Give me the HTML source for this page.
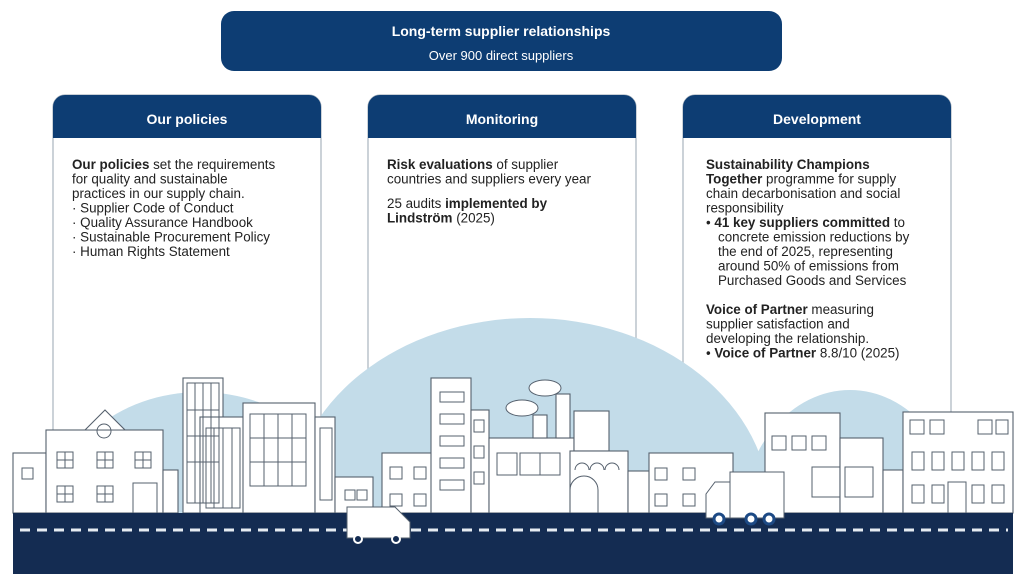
<!DOCTYPE html>
<html><head><meta charset="utf-8"><style>
html,body{margin:0;padding:0;background:#fff;overflow:hidden;width:1024px;height:584px;}
svg{display:block;font-family:"Liberation Sans",sans-serif;}
.t{font-size:13.4px;fill:#222;}
.b{font-weight:bold;}
.h{font-size:14px;font-weight:bold;fill:#fff;}
.w{fill:#fff;stroke:#55606d;stroke-width:1.1;}
</style></head><body>
<svg width="1024" height="584" viewBox="0 0 1024 584">
<defs><clipPath id="c"><rect x="0" y="0" width="1024" height="513"/></clipPath></defs>
<rect x="221" y="11" width="561" height="60" rx="13" fill="#0d3d73"/>
<text x="501" y="36" text-anchor="middle" class="h">Long-term supplier relationships</text>
<text x="501" y="60" text-anchor="middle" style="font-size:13px;fill:#fff">Over 900 direct suppliers</text>

<g>
<path d="M53,460 V107 a12,12 0 0 1 12,-12 H309 a12,12 0 0 1 12,12 V460" fill="#fff" stroke="#a9b4bf" stroke-width="1.2"/>
<path d="M53,138 V107 a12,12 0 0 1 12,-12 H309 a12,12 0 0 1 12,12 V138 Z" fill="#0d3d73"/>
<text x="187" y="124" text-anchor="middle" class="h">Our policies</text>
<path d="M368,460 V107 a12,12 0 0 1 12,-12 H624 a12,12 0 0 1 12,12 V460" fill="#fff" stroke="#a9b4bf" stroke-width="1.2"/>
<path d="M368,138 V107 a12,12 0 0 1 12,-12 H624 a12,12 0 0 1 12,12 V138 Z" fill="#0d3d73"/>
<text x="502" y="124" text-anchor="middle" class="h">Monitoring</text>
<path d="M683,460 V107 a12,12 0 0 1 12,-12 H939 a12,12 0 0 1 12,12 V460" fill="#fff" stroke="#a9b4bf" stroke-width="1.2"/>
<path d="M683,138 V107 a12,12 0 0 1 12,-12 H939 a12,12 0 0 1 12,12 V138 Z" fill="#0d3d73"/>
<text x="817" y="124" text-anchor="middle" class="h">Development</text>
</g>

<g class="t">
<text x="72" y="169"><tspan class="b">Our policies</tspan> set the requirements</text>
<text x="72" y="183.5">for quality and sustainable</text>
<text x="72" y="198">practices  in our supply chain.</text>
<text x="72" y="212.5">·  Supplier Code of Conduct</text>
<text x="72" y="227">·  Quality Assurance Handbook</text>
<text x="72" y="241.5">·  Sustainable Procurement Policy</text>
<text x="72" y="256">·  Human Rights Statement</text>

<text x="387" y="169"><tspan class="b">Risk evaluations</tspan> of supplier</text>
<text x="387" y="183.5">countries and suppliers every year</text>
<text x="387" y="208">25 audits <tspan class="b">implemented by</tspan></text>
<text x="387" y="222.5"><tspan class="b">Lindström</tspan> (2025)</text>

<text x="706" y="169" class="b">Sustainability Champions</text>
<text x="706" y="183.5"><tspan class="b">Together</tspan> programme for supply</text>
<text x="706" y="198">chain decarbonisation and social</text>
<text x="706" y="212.5">responsibility</text>
<text x="706" y="227">•  <tspan class="b">41 key suppliers committed</tspan> to</text>
<text x="718" y="241.5">concrete emission reductions by</text>
<text x="718" y="256">the end of 2025, representing</text>
<text x="718" y="270.5">around 50% of emissions from</text>
<text x="718" y="285">Purchased Goods and Services</text>
<text x="706" y="314"><tspan class="b">Voice of Partner</tspan> measuring</text>
<text x="706" y="328.5">supplier satisfaction and</text>
<text x="706" y="343">developing the relationship.</text>
<text x="706" y="357.5">•  <tspan class="b">Voice of Partner</tspan> 8.8/10 (2025)</text>
</g>

<g fill="#c3dce9" clip-path="url(#c)">
<ellipse cx="200" cy="520" rx="150" ry="128"/>
<ellipse cx="530" cy="510" rx="240" ry="192"/>
<ellipse cx="850" cy="520" rx="108" ry="130"/>
</g>

<g class="w">
<rect x="13" y="453" width="33" height="60"/>
<rect x="46" y="430" width="117" height="83"/>
<path d="M85,430 L105,410 L125,430 Z"/>
<rect x="163" y="470" width="15" height="43"/>
<rect x="183" y="378" width="40" height="135"/>
<rect x="200" y="417" width="45" height="96"/>
<rect x="243" y="403" width="72" height="110"/>
<rect x="315" y="417" width="20" height="96"/>
<rect x="335" y="477" width="38" height="36"/>
<rect x="382" y="453" width="50" height="60"/>
<rect x="431" y="378" width="40" height="135"/>
<rect x="471" y="410" width="18" height="103"/>
<rect x="489" y="438" width="85" height="75"/>
<rect x="533" y="415" width="14" height="23"/>
<rect x="556" y="394" width="14" height="44"/>
<rect x="574" y="411" width="35" height="40"/>
<rect x="570" y="451" width="58" height="62"/>
<rect x="628" y="471" width="22" height="42"/>
<rect x="649" y="453" width="84" height="60"/>
<rect x="765" y="413" width="75" height="100"/>
<rect x="840" y="438" width="43" height="75"/>
<rect x="883" y="470" width="20" height="43"/>
<rect x="903" y="412" width="110" height="101"/>
</g>
<g fill="none" stroke="#55606d" stroke-width="1">
<rect x="57" y="452" width="16" height="16"/><rect x="97" y="452" width="16" height="16"/><rect x="135" y="452" width="16" height="16"/>
<rect x="57" y="486" width="16" height="16"/><rect x="97" y="486" width="16" height="16"/>
<path d="M65,452V468M57,460H73M105,452V468M97,460H113M143,452V468M135,460H151M65,486V502M57,494H73M105,486V502M97,494H113"/>
<rect x="22" y="468" width="11" height="11"/>
<rect x="133" y="483" width="24" height="30"/>
<circle cx="104" cy="431" r="7"/>
<rect x="250" y="414" width="56" height="72"/><path d="M264,414V486M278,414V486M292,414V486M250,438H306M250,462H306"/>
<rect x="206" y="428" width="34" height="80"/><path d="M214,428V508M223,428V508M232,428V508"/>
<rect x="187" y="383" width="32" height="120"/><path d="M195,383V503M203,383V503M211,383V503M187,410H219M187,436H219M187,462H219"/>
<rect x="320" y="428" width="12" height="72"/>
<rect x="345" y="490" width="10" height="10"/><rect x="357" y="490" width="10" height="10"/>
<rect x="440" y="392" width="24" height="10"/><rect x="440" y="414" width="24" height="10"/><rect x="440" y="436" width="24" height="10"/><rect x="440" y="458" width="24" height="10"/><rect x="440" y="480" width="24" height="10"/>
<rect x="474" y="420" width="10" height="12"/><rect x="474" y="446" width="10" height="12"/><rect x="474" y="472" width="10" height="12"/>
<rect x="390" y="467" width="12" height="12"/><rect x="390" y="494" width="12" height="12"/><rect x="414" y="467" width="12" height="12"/><rect x="414" y="494" width="12" height="12"/>
<rect x="497" y="453" width="20" height="22"/><rect x="520" y="453" width="20" height="22"/><rect x="540" y="453" width="20" height="22"/>
<path d="M575,470 a7,7 0 0 1 14,0 M590,470 a7,7 0 0 1 14,0 M605,470 a7,7 0 0 1 14,0"/>
<path d="M570,513 V490 a14,14 0 0 1 28,0 V513"/>
<rect x="655" y="468" width="12" height="12"/><rect x="683" y="468" width="12" height="12"/><rect x="655" y="494" width="12" height="12"/><rect x="683" y="494" width="12" height="12"/>
<rect x="772" y="436" width="14" height="14"/><rect x="792" y="436" width="14" height="14"/><rect x="812" y="436" width="14" height="14"/>
<rect x="812" y="467" width="28" height="30"/><rect x="845" y="467" width="28" height="30"/>
<path d="M910,420h14v14h-14zM930,420h14v14h-14zM978,420h14v14h-14zM996,420h12v14h-12z"/>
<path d="M912,470v-18h12v18zM932,470v-18h12v18zM952,470v-18h12v18zM972,470v-18h12v18zM992,470v-18h12v18z"/>
<path d="M912,503v-18h12v18zM932,503v-18h12v18zM972,503v-18h12v18zM992,503v-18h12v18z"/>
<rect x="948" y="482" width="18" height="31"/>
</g>
<g fill="#fff" stroke="#55606d" stroke-width="1">
<ellipse cx="545" cy="388" rx="16" ry="8"/><ellipse cx="522" cy="408" rx="16" ry="8"/>
</g>

<rect x="13" y="513" width="1000" height="61" fill="#142c52"/>
<line x1="20" y1="530" x2="1008" y2="530" stroke="#e6ecf2" stroke-width="3" stroke-dasharray="10 7"/>
<path d="M347,507 H395 L410,522 V538 H347 Z" fill="#fff" stroke="#55606d"/>
<circle cx="358" cy="539" r="4" fill="#142c52" stroke="#fff" stroke-width="2"/><circle cx="396" cy="539" r="4" fill="#142c52" stroke="#fff" stroke-width="2"/>
<rect x="730" y="472" width="54" height="46" fill="#fff" stroke="#55606d"/>
<path d="M706,518 V494 L715,482 H730 V518 Z" fill="#fff" stroke="#55606d"/>
<circle cx="719" cy="519" r="5" fill="#fff" stroke="#1d4a85" stroke-width="3"/><circle cx="751" cy="519" r="5" fill="#fff" stroke="#1d4a85" stroke-width="3"/><circle cx="769" cy="519" r="5" fill="#fff" stroke="#1d4a85" stroke-width="3"/>
</svg>
</body></html>
